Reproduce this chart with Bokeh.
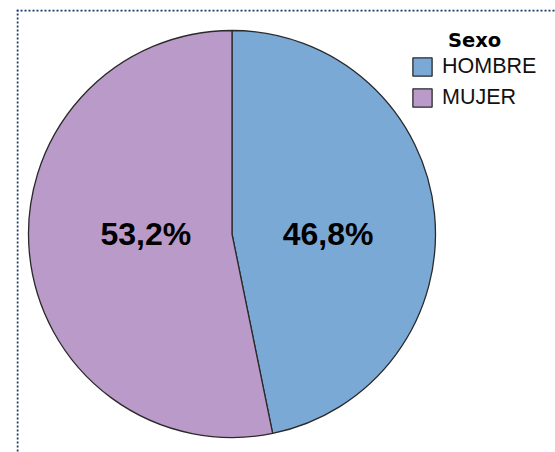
import math
from bokeh.plotting import figure
from bokeh.models import ColumnDataSource, Span, Label, Legend, LegendItem, Range1d
from bokeh.core.properties import value
from bokeh.embed import file_html
from bokeh.resources import INLINE

# ---- data ----
categories = ["HOMBRE", "MUJER"]
percentages = [46.8, 53.2]
palette = ["#7BA9D6", "#B99AC9"]
legend_title = "Sexo"

# ---- geometry (px == data unit) ----
R = 203.5
W, H = 555, 452
ml, mt = 16, 9
cx_fig, cy_fig = 231.5, 233.5
x0 = -(cx_fig - ml)
x1 = x0 + (W - ml)
y1 = cy_fig - mt
y0 = y1 - (H - mt)

total = sum(percentages)
starts, ends, mids = [], [], []
cum = 0.0
for v in percentages:
    a_end = math.pi / 2 - 2 * math.pi * cum / total
    cum += v
    a_start = math.pi / 2 - 2 * math.pi * cum / total
    starts.append(a_start)
    ends.append(a_end)
    mids.append((a_start + a_end) / 2)

# labels placed on the horizontal line through the centre, on the side of each slice
k = 0.45
lx = [R * k * math.cos(m) for m in mids]
ly = [0.0 for m in mids]
texts = [f"{v:.1f}".replace(".", ",") + "%" for v in percentages]

src = ColumnDataSource(dict(cat=categories, start=starts, end=ends, color=palette,
                            lx=lx, ly=ly, txt=texts))

p = figure(width=W, height=H, output_backend="svg", toolbar_location=None,
           x_range=Range1d(x0, x1), y_range=Range1d(y0, y1),
           min_border_left=ml, min_border_top=mt, min_border_right=0, min_border_bottom=0)
p.axis.visible = False
p.grid.visible = False
p.outline_line_color = None
p.background_fill_color = "white"

r = p.wedge(x=0, y=0, radius=R, start_angle="start", end_angle="end",
            fill_color="color", line_color="#2a2a2a", line_width=1.3, source=src)

p.text(x="lx", y="ly", text="txt", source=src, x_offset=5, y_offset=0,
       text_align="center", text_baseline="middle",
       text_font=value("Liberation Sans"), text_font_style="bold",
       text_font_size="32px", text_color="black")

# dotted frame lines
p.add_layout(Span(location=x0 + 1, dimension="height", line_color="#1a3a68",
                  line_width=2, line_dash="2 2"))
p.add_layout(Span(location=y1 - 1, dimension="width", line_color="#1a3a68",
                  line_width=2, line_dash="2 2"))

legend = Legend(items=[LegendItem(label=c, renderers=[r], index=i) for i, c in enumerate(categories)],
                location=(394, 342), orientation="vertical",
                glyph_width=24, glyph_height=23, label_height=23, label_standoff=8,
                spacing=6, padding=0, margin=0,
                border_line_color=None, background_fill_alpha=0,
                label_text_font="Liberation Sans", label_text_font_size="21.5px",
                label_text_color="#111111")
p.add_layout(legend, "center")

p.add_layout(Label(x=242.5, y=194, text=legend_title, text_align="center",
                   text_baseline="middle", text_font="DejaVu Sans",
                   text_font_style="bold", text_font_size="19.5px", text_color="black"))

open("out.html", "w").write(file_html(p, INLINE))
